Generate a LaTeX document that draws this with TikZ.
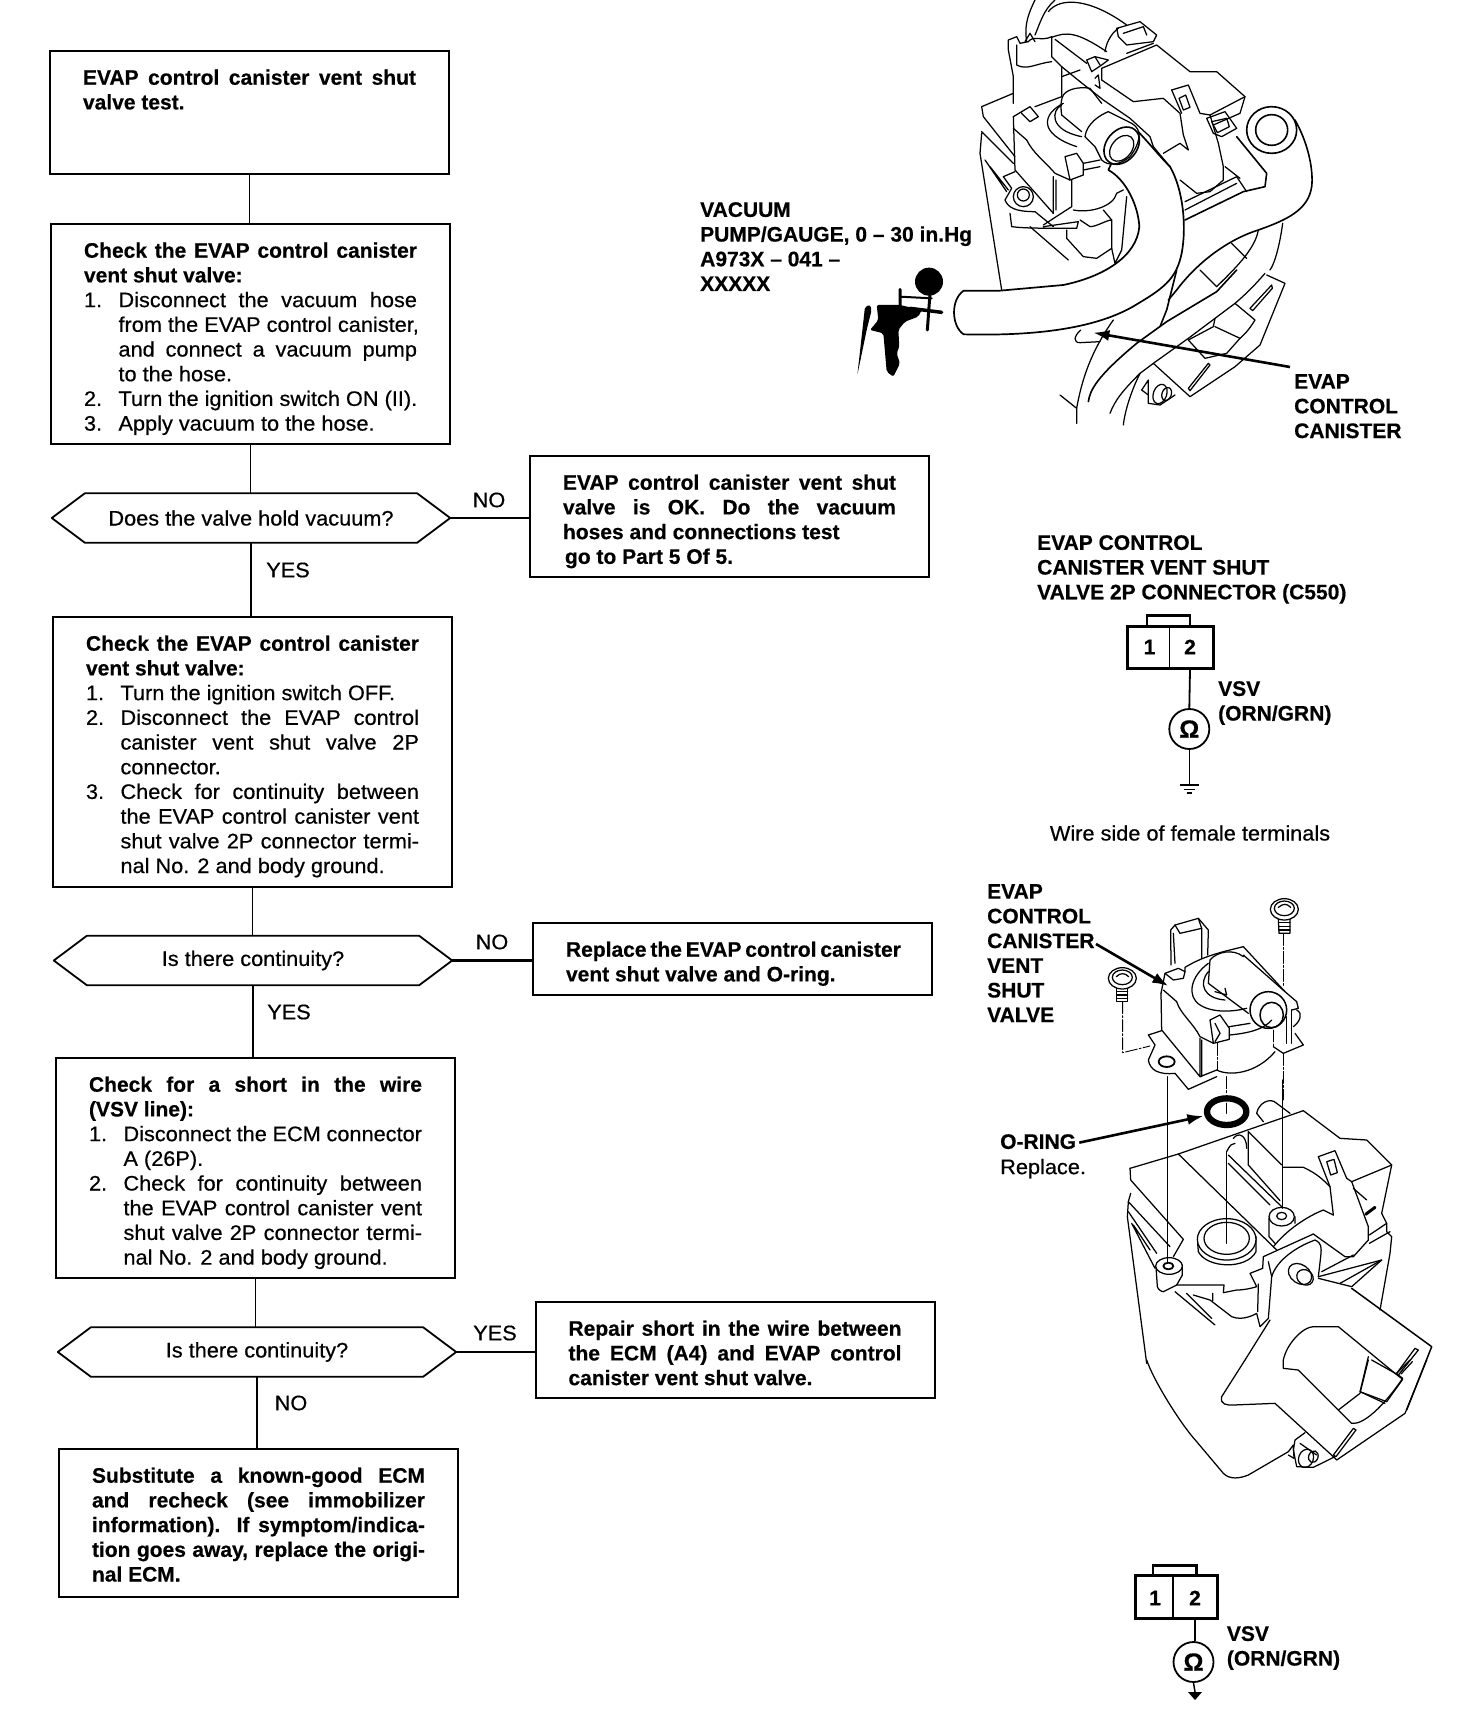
\documentclass[tikz,border=0pt]{standalone}
\usepackage{fontspec}
\setmainfont{Liberation Sans}[UprightFeatures={FakeStretch=1.035,FakeBold=0.5},BoldFeatures={FakeBold=0.5}]
\usetikzlibrary{arrows.meta}
\newcommand\J[1]{\makebox[333pt][s]{#1}\\}
\newcommand\Nj[2]{\makebox[34.5pt][l]{#1}\makebox[298.5pt][s]{#2}\\}
\newcommand\Nn[2]{\makebox[34.5pt][l]{#1}#2\\}
\newcommand\Bx[3]{\parbox[c][#2pt][t]{#1pt}{\setlength\leftskip{33pt}\vspace*{18.5pt}#3}}
\newcommand\Hexa[1]{\draw[line width=1.8pt,line join=round] ([xshift=33pt]#1.north west) -- ([xshift=-33pt]#1.north east) -- (#1.east) -- ([xshift=-33pt]#1.south east) -- ([xshift=33pt]#1.south west) -- (#1.west) -- cycle;}
\tikzset{
 fbox/.style={draw,line width=2pt,inner sep=0pt,anchor=north west,font=\fontsize{21}{24.7}\selectfont},
 hexnode/.style={inner sep=0pt,minimum height=49pt,font=\fontsize{21}{24.7}\selectfont},
 flow/.style={line width=1.8pt},
 side/.style={line width=2.6pt},
 tag/.style={inner sep=0pt,font=\fontsize{21}{24.7}\selectfont},
 tagb/.style={tag,anchor=north west,align=left,font=\fontsize{21}{24.7}\selectfont\bfseries},
 ill/.style={line width=1.25pt,line join=round,line cap=round},
 hid/.style={line width=0.9pt,dash pattern=on 12pt off 2pt on 2pt off 2pt},
 lead/.style={line width=2.6pt,-{Latex[length=16pt,width=11pt]}},
 conn/.style={draw,line width=3pt,inner sep=0pt,anchor=north west},
 pinn/.style={inner sep=0pt,font=\fontsize{21}{24.7}\selectfont\bfseries},
 ohm/.style={draw,circle,line width=1.8pt,minimum size=40pt,inner sep=0pt,font=\fontsize{25}{26}\selectfont\bfseries},
 crop/.style 2 args={shift={(#1,#2)},scale=0.33333,ill},
}
\begin{document}
\begin{tikzpicture}[x=1pt,y=-1pt]
\useasboundingbox (0,0) rectangle (1456,1712);
% ---------- flowchart ----------
\node[fbox] (b1) at (49,50) {\Bx{399}{123}{\bfseries\J{EVAP control canister vent shut}valve test.}};
\node[fbox] (b2) at (50,223) {\Bx{399}{220}{\bfseries\J{Check the EVAP control canister}vent shut valve:\\\mdseries
\Nj{1.}{Disconnect the vacuum hose}\Nn{}{from the EVAP control canister,}\Nj{}{and connect a vacuum pump}\Nn{}{to the hose.}\Nn{2.}{Turn the ignition switch ON (II).}\Nn{3.}{Apply vacuum to the hose.}}};
\node[hexnode,minimum width=398pt] (d1) at (251,518) {Does the valve hold vacuum?};
\node[fbox] (n1) at (529,455) {\Bx{399}{121}{\bfseries\J{EVAP control canister vent shut}\J{valve is OK. Do the vacuum}hoses and connections test\\\hspace*{2pt}go to Part 5 Of 5.}};
\node[fbox] (b3) at (52,616) {\Bx{399}{270}{\bfseries\J{Check the EVAP control canister}vent shut valve:\\\mdseries
\Nn{1.}{Turn the ignition switch OFF.}\Nj{2.}{Disconnect the EVAP control}\Nj{}{canister vent shut valve 2P}\Nn{}{connector.}\Nj{3.}{Check for continuity between}\Nj{}{the EVAP control canister vent}\Nj{}{shut valve 2P connector termi-}\Nn{}{nal No. 2 and body ground.}}};
\node[hexnode,minimum width=398pt] (d2) at (253,960.5) {\raisebox{-2pt}{Is there continuity?}};
\node[fbox] (n2) at (532,922) {\Bx{399}{72}{\bfseries\J{Replace the EVAP control canister}vent shut valve and O-ring.}};
\node[fbox] (b4) at (55,1057) {\Bx{399}{220}{\bfseries\J{Check for a short in the wire}(VSV line):\\\mdseries
\Nj{1.}{Disconnect the ECM connector}\Nn{}{A (26P).}\Nj{2.}{Check for continuity between}\Nj{}{the EVAP control canister vent}\Nj{}{shut valve 2P connector termi-}\Nn{}{nal No. 2 and body ground.}}};
\node[hexnode,minimum width=398pt] (d3) at (257,1352) {\raisebox{-1pt}{Is there continuity?}};
\node[fbox] (n3) at (534.5,1301) {\Bx{399}{96}{\bfseries\J{Repair short in the wire between}\J{the ECM (A4) and EVAP control}canister vent shut valve.}};
\node[fbox] (b5) at (58,1448) {\Bx{399}{148}{\bfseries\J{Substitute a known-good ECM}\J{and recheck (see immobilizer}\J{information). If symptom/indica-}\J{tion goes away, replace the origi-}nal ECM.}};
\Hexa{d1}\Hexa{d2}\Hexa{d3}
\draw[flow] (b1.south) -- (b1.south |- b2.north);
\draw[flow] (b2.south) -- (b2.south |- d1.north);
\draw[flow] (d1.south) -- (d1.south |- b3.north);
\draw[flow] (b3.south) -- (b3.south |- d2.north);
\draw[flow] (d2.south) -- (d2.south |- b4.north);
\draw[flow] (b4.south) -- (b4.south |- d3.north);
\draw[flow] (d3.south) -- (d3.south |- b5.north);
\draw[side] (d1.east) -- (d1.east -| n1.west);
\draw[side] (d2.east) -- (d2.east -| n2.west);
\draw[flow,line width=1.3pt] (d3.east) -- (d3.east -| n3.west);
\node[tag] (lno1) at (489,500) {NO};
\node[tag] (lyes1) at (288,570) {YES};
\node[tag] (lno2) at (492,942) {NO};
\node[tag] (lyes2) at (289,1012) {YES};
\node[tag] (lyes3) at (495,1333) {YES};
\node[tag] (lno3) at (291,1403) {NO};
% ---------- top illustration, upper part ----------
\begin{scope}[crop={980}{0}]
% wires
\draw (165,0) .. controls (135,60) and (135,90) .. (140,125);
\draw (225,0) .. controls (190,30) and (180,70) .. (165,105);
\draw (205,35) .. controls (240,-10) and (330,-5) .. (440,75);
\draw (215,112) .. controls (260,95) and (290,95) .. (380,155);
\draw (225,118) -- (320,190);
\draw (245,230) -- (300,210) (245,200) -- (300,245);
% sleeve
\draw (100,310) -- (100,230) -- (85,150) -- (85,120) -- (110,110) -- (120,130) -- (145,125) .. controls (160,105) and (185,125) .. (215,110) -- (215,170) -- (245,200) -- (245,290);
\draw (110,135) -- (110,195) .. controls (140,212) and (170,190) .. (215,185);
\draw (135,125) -- (150,100) -- (165,125);
% clips
\draw (320,180) -- (345,170) -- (385,180) -- (365,195) -- (335,215) -- cycle;
\draw (345,170) -- (360,195) (345,235) -- (355,225) -- (360,265) -- (345,255);
\draw (410,85) -- (480,65) -- (530,105) -- (520,125) -- (440,135) -- (415,110) -- cycle;
\draw (430,100) -- (490,80) -- (500,105);
\draw (375,155) .. controls (380,120) and (400,95) .. (415,85);
\draw (440,160) -- (520,130);
% right block
\draw (365,205) -- (530,135) -- (630,215) -- (710,215) -- (795,290) -- (780,340) -- (700,375);
\draw (365,205) -- (365,240) -- (460,305) -- (550,295) -- (600,340) -- (610,405) -- (625,450) -- (600,430) -- (550,460);
\draw (795,290) -- (690,345);
\draw (575,270) -- (625,255) -- (660,340) -- (690,345) -- (715,430) -- (730,500) -- (730,540) -- (690,575) -- (650,580) -- (600,540);
\draw (575,270) -- (605,340);
\draw (597,295) -- (617,285) -- (630,322) -- (610,330) -- cycle;
\draw (680,355) -- (735,335) -- (770,385) -- (725,410) -- (700,400) -- cycle;
\draw (695,365) -- (740,355) -- (748,380) -- (712,398) -- cycle;
% hose 2
\draw[line width=1.6pt] (770,410) -- (860,520) -- (855,560) -- (790,575) -- (615,660);
\draw (615,605) -- (770,530) -- (800,575);
\draw (735,500) -- (780,535) (615,630) -- (770,550);
\draw[line width=1.6pt] (875,390) ellipse [x radius=75,y radius=70];
\draw[line width=1.6pt] (875,390) ellipse [x radius=48,y radius=46];
\draw[line width=1.6pt] (945,360) .. controls (990,440) and (1000,520) .. (995,560) .. controls (985,630) and (920,660) .. (835,690) .. controls (740,720) and (650,790) .. (590,870) -- (565,900);
\draw (908,670) .. controls (900,730) and (885,790) .. (870,810);
\draw (835,690) .. controls (825,750) and (760,810) .. (710,860);
\draw (755,730) -- (800,775) (660,810) -- (710,860);
% body left
\draw (100,280) -- (5,320) -- (10,350) -- (105,470);
\draw (5,395) -- (100,490) (5,400) -- (0,460) -- (65,870);
\draw (15,480) -- (80,575) (30,500) -- (85,570);
% hose 1
\draw[fill=white,line width=1.7pt] (-49,1003) .. controls (150,1008) and (350,990) .. (475,910) .. controls (560,860) and (590,830) .. (605,760) .. controls (620,680) and (610,570) .. (570,500) .. controls (530,460) and (510,430) .. (450,370) -- (385,510) .. controls (440,540) and (475,620) .. (478,680) .. controls (470,770) and (370,830) .. (250,855) -- (60,872) -- (-49,872) .. controls (-90,900) and (-85,980) .. (-49,1003) -- cycle;
% valve
\draw (245,290) -- (165,320);
\draw (250,310) .. controls (190,340) and (170,400) .. (290,440);
\draw (245,315) .. controls (215,330) and (205,390) .. (305,410);
\draw (100,350) -- (150,320) -- (175,350) -- (150,365) -- (125,340);
\draw (100,350) -- (105,510) -- (220,640);
\draw (100,385) -- (140,420) .. controls (160,460) and (190,480) .. (225,520) -- (270,540);
\draw (255,470) -- (290,460) -- (310,490) -- (310,525) -- (270,540) -- cycle;
\draw (310,490) -- (360,480) (310,510) -- (360,500);
\draw (220,530) -- (220,640) (228,540) -- (228,630) (275,540) -- (275,620) -- (190,675);
\draw (105,515) -- (70,530) -- (95,565) -- (75,600) .. controls (85,625) and (110,635) .. (165,635) -- (220,680);
\draw[fill=white] (130,590) ellipse [x radius=30,y radius=30];
\draw (130,585) ellipse [x radius=18,y radius=18];
\draw (90,640) -- (95,680) .. controls (130,685) and (200,685) .. (290,685) -- (295,665) -- (190,680);
\draw (280,630) .. controls (330,640) and (400,620) .. (410,580) -- (430,570);
\draw (300,660) -- (330,680) .. controls (350,680) and (380,660) .. (395,660) -- (395,745) -- (350,775) -- (310,770) -- (260,715) -- (260,690);
\draw (150,680) -- (265,780);
\draw (395,745) -- (405,790) -- (425,750) -- (440,590);
\draw (370,630) -- (395,660);
% tube and cap
\draw (245,345) .. controls (240,310) and (245,295) .. (250,285) .. controls (265,265) and (300,260) .. (330,265) -- (365,310);
\draw (245,345) -- (305,395);
\draw (300,245) -- (370,300) -- (450,355) -- (510,410) -- (520,440) -- (570,500);
\draw[fill=white] (315,410) .. controls (320,370) and (360,345) .. (385,335) -- (455,370) .. controls (490,390) and (480,430) .. (450,470) .. controls (420,495) and (385,500) .. (365,480) -- (345,440) -- cycle;
\draw[rotate around={50:(425,437)},line width=1.6pt] (425,437) ellipse [x radius=62,y radius=46];
\draw[rotate around={50:(425,445)}] (425,445) ellipse [x radius=44,y radius=30];
\end{scope}
% ---------- top illustration, lower part ----------
\begin{scope}[crop={1060}{270}]
\draw[line width=1.6pt] (530,0) -- (470,65) -- (320,155) -- (230,220) .. controls (110,320) and (90,360) .. (85,395);
\draw[line width=1.6pt] (350,0) -- (320,120) -- (300,170);
\draw (160,150) .. controls (110,220) and (70,300) .. (50,415) -- (50,460) (0,375) -- (50,415);
\draw (62,180) .. controls (40,200) and (40,218) .. (60,218) -- (120,215);
\draw (615,10) .. controls (580,50) and (560,70) .. (525,100) -- (385,205) -- (280,280) -- (240,310) .. controls (190,360) and (165,390) .. (150,430);
\draw (240,310) .. controls (215,360) and (195,420) .. (190,465);
\draw (620,15) -- (675,40) -- (600,225) -- (525,290) -- (390,380) -- (280,280);
\draw (525,100) -- (585,150) .. controls (560,190) and (550,195) .. (540,205) -- (500,250) -- (435,265) -- (385,210);
\draw (465,145) -- (460,170) -- (385,210) (465,170) -- (540,205);
\draw (635,45) -- (570,115) -- (578,122) -- (637,55) -- cycle;
\draw (445,280) -- (385,355) -- (390,362) -- (450,285) -- cycle;
\draw (245,360) -- (265,330) -- (265,400) -- (300,405) -- (345,375);
\draw[rotate around={-20:(300,372)}] (300,372) ellipse [x radius=20,y radius=30];
\draw[rotate around={-20:(320,372)}] (320,372) ellipse [x radius=14,y radius=20];
\draw (245,360) -- (265,375);
\coordinate (tipcan) at (100,188);
\end{scope}
% ---------- gauge ----------
\begin{scope}[crop={850}{250}]
\fill (237,95) circle [radius=42];
\draw[line width=2pt] (150,140) -- (245,145);
\draw[line width=3pt] (150,118) -- (150,175) (240,130) -- (232,240);
\draw[line width=3.5pt] (180,175) -- (275,187);
\fill[rounded corners=2pt] (80,165) -- (150,165) -- (215,180) -- (205,200) -- (165,215) -- (145,240) -- (148,290) -- (140,310) -- (150,340) -- (130,380) -- (110,365) -- (100,250) -- (60,240) -- (85,210) -- cycle;
\fill[rounded corners=2pt] (45,170) -- (60,165) -- (65,180) -- (50,240) -- (22,375) -- cycle;
\end{scope}
\node[tagb] (vac) at (700,202) {VACUUM\\PUMP/GAUGE, 0 -- 30 in.Hg\\A973X -- 041 --\\XXXXX};
\node[tagb] (evapcan) at (1294,374) {EVAP\\CONTROL\\CANISTER};
\draw[lead] ([yshift=7pt]evapcan.north west) ++(-4pt,0) -- (tipcan);
% ---------- connector 1 ----------
\node[tagb] (conlab) at (1037,535) {EVAP CONTROL\\CANISTER VENT SHUT\\VALVE 2P CONNECTOR (C550)};
\node[conn,minimum width=86pt,minimum height=41.5pt] (c1) at (1126,625) {};
\draw[line width=2.4pt] (1147,625) -- (1147,615.5) -- (1190,615.5) -- (1190,625);
\draw[line width=0.9pt] (1169,625) -- (1169,666.7);
\node[pinn] (p11) at (1149.5,647) {1};
\node[pinn] (p12) at (1190,647) {2};
\node[ohm] (o1) at (1189.3,729) {Ω};
\coordinate (gnd1) at (1189.3,785);
\draw[flow] (p12 |- c1.south) -- (o1.north);
\draw[line width=1.5pt] (o1.south) -- (gnd1);
\draw[line width=1.5pt] (1180,785) -- (1198.5,785) (1183.5,789.3) -- (1195,789.3) (1186.5,793) -- (1192,793);
\node[tagb] (vsv1) at (1218,681) {VSV\\(ORN/GRN)};
\node[tag] (wire) at (1190,833) {Wire side of female terminals};
% ---------- lower illustration: body ----------
\begin{scope}[crop={1100}{1080}]
\draw (90,265) -- (235,222) -- (610,92) -- (720,175) -- (800,180) -- (875,255) -- (845,400);
\draw (875,255) -- (755,305);
\draw (90,265) -- (92,300) -- (250,478) -- (220,530);
\draw (92,340) -- (85,365) -- (82,410) -- (140,850);
\draw (85,365) -- (210,500) (85,395) -- (170,520) (95,430) -- (165,565) (100,435) -- (150,510);
\draw (235,222) -- (530,510);
\draw (385,225) -- (545,380) (385,250) -- (510,375);
\draw (380,215) .. controls (390,195) and (395,190) .. (405,190) (400,175) .. controls (415,155) and (440,165) .. (440,205);
\draw (445,155) -- (445,255) (445,155) -- (545,255);
\draw (445,255) -- (540,362);
\draw (550,262) -- (610,262) .. controls (650,280) and (670,300) .. (690,320) -- (700,405);
\draw (470,100) .. controls (475,70) and (510,50) .. (530,70) -- (570,100);
\draw (470,100) -- (490,125);
\draw (655,230) -- (705,212) -- (740,295) -- (755,305) -- (805,440) -- (805,480) -- (760,530) -- (735,530) -- (640,462);
\draw (680,245) -- (702,238) -- (712,278) -- (692,285) -- cycle;
\draw (655,230) -- (690,320);
\draw (700,405) -- (670,390) .. controls (620,410) and (560,450) .. (520,500);
\draw[line width=3pt] (797,403) -- (825,382);
\draw (760,325) -- (800,360);
\draw (845,400) -- (860,430) -- (808,465);
\draw (860,430) -- (860,455) -- (875,470) -- (870,520) -- (840,690);
\draw (808,490) -- (870,455);
% boss
\draw[fill=white] (293,490) -- (295,515) .. controls (320,565) and (440,570) .. (468,515) -- (468,470) -- cycle;
\draw[fill=white] (380,478) ellipse [x radius=88,y radius=62];
\draw (380,475) ellipse [x radius=68,y radius=48];
% posts
\draw (507,415) -- (507,470) -- (525,490) (585,410) -- (585,430);
\draw[fill=white] (545,410) ellipse [x radius=38,y radius=28];
\draw (545,408) ellipse [x radius=15,y radius=11];
\draw (168,560) -- (172,620) .. controls (175,630) and (185,635) .. (190,635) -- (230,615) -- (372,615) -- (370,638) -- (410,630) .. controls (440,630) and (470,620) .. (470,620) -- (450,580) -- (488,565) -- (490,530) -- (640,462);
\draw (247,555) -- (247,585) -- (230,615);
\draw[fill=white] (207,558) ellipse [x radius=40,y radius=25];
\draw[line width=1.8pt] (205,558) ellipse [x radius=15,y radius=10];
% under plate
\draw (225,635) -- (345,735) (260,640) -- (335,715);
\draw (280,645) -- (330,660) -- (395,710) .. controls (430,725) and (470,700) .. (470,700) -- (480,740) -- (505,715) -- (515,590) .. controls (530,540) and (590,500) .. (645,480) .. controls (665,490) and (665,500) .. (662,530) -- (655,590);
\draw (338,640) -- (338,662) (475,612) -- (473,695) (505,545) -- (515,590);
\draw[rotate around={-35:(600,582)}] (600,582) ellipse [x radius=38,y radius=28];
\draw[rotate around={-35:(615,592)}] (615,592) ellipse [x radius=26,y radius=22];
\draw (655,590) -- (845,540) -- (755,620) -- (655,595);
\draw (665,575) -- (760,525) (720,610) -- (845,540);
% flap
\draw[line width=1.5pt] (755,625) -- (995,800) -- (920,990);
\draw (510,720) -- (435,840);
\draw (550,840) .. controls (560,790) and (610,740) .. (640,740) -- (715,740) -- (885,880) -- (908,898) -- (860,965);
\draw (805,830) -- (780,935) -- (860,965);
\draw (890,880) -- (945,805) -- (955,810) -- (895,885) -- cycle;
% axes
\draw (203,0) -- (203,545) (380,215) -- (380,490) (547,0) -- (547,385);
% o-ring
\draw[line width=6.3pt] (380,95) ellipse [x radius=59,y radius=40];
\draw (380,70) -- (380,100);
\coordinate (tipring) at (310,108);
\end{scope}
% ---------- lower illustration: tail ----------
\begin{scope}[crop={1120}{1360}]
\draw (80,0) .. controls (100,60) and (180,190) .. (230,245) -- (310,340) .. controls (330,360) and (360,355) .. (385,345) -- (505,275);
\draw (375,0) -- (305,110) .. controls (300,135) and (320,135) .. (340,135) -- (465,130) -- (640,290) -- (650,300) -- (855,160) -- (920,0);
\draw (490,0) -- (490,25) -- (535,30) -- (695,190) .. controls (730,195) and (790,140) .. (848,55) -- (835,45) -- (755,0);
\draw (745,0) -- (720,100) -- (655,150) (720,95) -- (795,130);
\draw (830,40) -- (870,0) (843,42) -- (877,5);
\draw (640,285) -- (700,205) -- (708,210) -- (648,290) -- cycle;
\draw (555,218) -- (525,240) -- (520,270) -- (530,320) -- (580,322) -- (645,290);
\draw (540,250) -- (590,285);
\draw[rotate around={-20:(558,295)}] (558,295) ellipse [x radius=22,y radius=28];
\draw[rotate around={-20:(580,290)}] (580,290) ellipse [x radius=14,y radius=18];
\draw (505,275) -- (520,255) -- (522,295) -- (505,285);
\end{scope}
% ---------- valve ----------
\begin{scope}[crop={1100}{880}]
\draw (213,255) -- (212,150) -- (225,135) -- (295,115) -- (325,150) -- (323,225);
\draw (225,135) -- (240,160) -- (305,145) -- (305,235);
\draw (220,160) -- (225,250) (295,115) -- (305,145);
\draw (183,340) -- (195,280) -- (235,265) -- (255,275) -- (255,262) .. controls (300,235) and (335,225) .. (370,215) -- (430,200) -- (555,335) -- (590,365) -- (595,385) -- (575,390);
\draw (195,280) -- (220,300) -- (250,295) -- (255,275);
\draw (330,240) .. controls (350,215) and (400,205) .. (430,230);
\draw (330,240) -- (325,310) -- (445,400);
\draw (430,225) -- (555,335);
\draw (375,325) -- (380,345) -- (345,335);
\draw (325,250) .. controls (270,290) and (260,350) .. (300,375) .. controls (340,400) and (400,395) .. (440,385);
\draw (325,275) .. controls (295,310) and (310,355) .. (375,360);
\draw[fill=white,line width=1.5pt] (505,390) ellipse [x radius=55,y radius=55];
\draw[line width=1.5pt] (515,405) ellipse [x radius=35,y radius=38];
\draw (183,340) -- (185,450) -- (300,590) -- (300,475);
\draw (190,330) -- (230,365) .. controls (240,400) and (280,430) .. (300,470) -- (340,490);
\draw (330,420) -- (360,405) -- (388,445) -- (388,478) -- (340,490) -- cycle;
\draw (345,430) -- (360,460) -- (345,485);
\draw (388,440) -- (450,430);
\draw (388,465) .. controls (440,460) and (490,450) .. (515,420);
\draw (305,480) -- (305,590) (300,590) -- (350,570);
\draw (350,570) .. controls (390,590) and (470,580) .. (525,515);
\draw (145,465) -- (185,452);
\draw (145,465) -- (165,495) -- (145,540) .. controls (150,570) and (175,585) .. (225,580) -- (265,628) -- (350,590);
\draw[line width=1.8pt] (200,545) ellipse [x radius=24,y radius=16];
\draw (520,500) -- (550,520) -- (610,495) -- (585,460);
\draw (560,410) -- (560,490) (575,390) -- (575,490);
\draw (590,390) .. controls (610,400) and (600,425) .. (580,440);
\draw[hid] (550,160) -- (550,320);
\draw[hid] (520,450) -- (520,500);
\draw[hid] (352,490) -- (352,570);
\draw[hid] (380,590) -- (380,640);
\draw[hid] (203,590) -- (203,660);
\draw[hid] (550,520) -- (550,660);
\draw[hid] (68,365) -- (68,518) -- (150,498);
% bolts
\draw (553,88) ellipse [x radius=42,y radius=32];
\draw (553,85) ellipse [x radius=30,y radius=22];
\draw (535,82) .. controls (550,70) and (560,70) .. (572,82);
\draw (535,118) -- (537,160) -- (570,160) -- (570,118);
\draw (537,128) -- (570,128) (537,139) -- (570,139) (537,150) -- (570,150);
\draw (67,295) ellipse [x radius=42,y radius=32];
\draw (67,292) ellipse [x radius=30,y radius=22];
\draw (49,290) .. controls (60,278) and (75,278) .. (86,290);
\draw (50,325) -- (50,365) -- (83,365) -- (83,325);
\draw (50,335) -- (83,335) (50,345) -- (83,345) (50,355) -- (83,355);
\coordinate (tipvalve) at (205,318);
\end{scope}
\node[tagb] (vlab) at (987,884) {EVAP\\CONTROL\\CANISTER\\VENT\\SHUT\\VALVE};
\coordinate (vfrom) at (1096,944);
\draw[lead] (vfrom) -- (tipvalve);
\node[tagb] (oring) at (1000,1134) {O-RING};
\node[tag,anchor=north west] (repl) at (1000,1158.7) {Replace.};
\draw[lead] (oring.east) ++(3pt,-1pt) -- (tipring);
% ---------- connector 2 ----------
\node[conn,minimum width=81.5pt,minimum height=43pt] (c2) at (1134,1574) {};
\draw[line width=2.4pt] (1153,1574) -- (1153,1565.5) -- (1196.5,1565.5) -- (1196.5,1574);
\draw[line width=1.1pt] (1173,1574) -- (1173,1617);
\node[pinn] (p21) at (1155,1598) {1};
\node[pinn] (p22) at (1195,1598) {2};
\node[ohm] (o2) at (1193.5,1662) {Ω};
\coordinate (gnd2) at (1195,1692);
\draw[flow] (p22 |- c2.south) -- (p22 |- o2.north);
\draw[line width=1.5pt] (o2.south) -- (gnd2);
\fill (1188,1692) -- (1202,1692) -- (1195,1700) -- cycle;
\node[tagb] (vsv2) at (1226.7,1626) {VSV\\(ORN/GRN)};
\end{tikzpicture}
\end{document}
